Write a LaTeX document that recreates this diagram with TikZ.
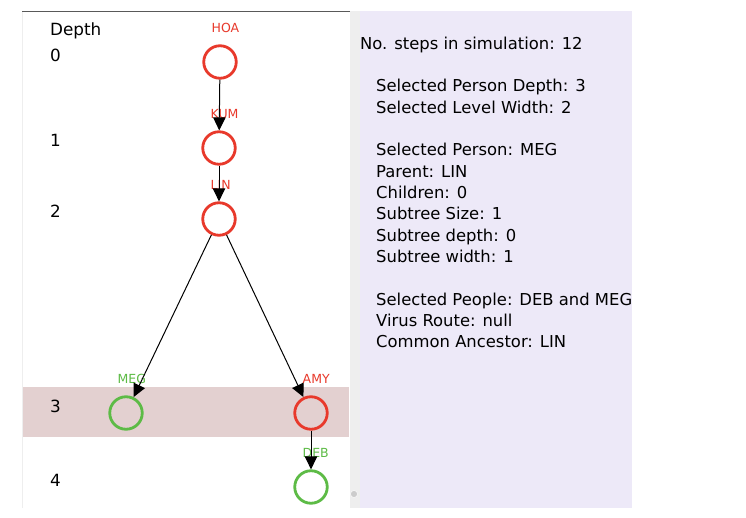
\documentclass[tikz,border=0pt]{standalone}
\usepackage{fontspec}
\setmainfont{DejaVu Sans}
\usetikzlibrary{calc,arrows.meta}

\definecolor{nodered}{RGB}{232,57,43}
\definecolor{nodegreen}{RGB}{93,187,70}
\definecolor{panelviolet}{RGB}{237,233,248}
\definecolor{bandpink}{RGB}{227,208,208}
\definecolor{stripgray}{RGB}{238,238,238}

\begin{document}
\begin{tikzpicture}[x=1pt, y=-1pt,
    person/.style={circle, draw, line width=2.8pt, minimum size=32.5pt, inner sep=0pt},
    infected/.style={person, draw=nodered},
    healthy/.style={person, draw=nodegreen},
    tag/.style={anchor=base west, inner sep=0pt, font=\fontsize{12.5}{14}\selectfont},
    level/.style={anchor=base west, inner sep=0pt, font=\fontsize{16.8}{20}\selectfont},
    info/.style={anchor=base west, inner sep=0pt, font=\fontsize{16.4}{20}\selectfont},
    link/.style={line width=1pt, -{Triangle[length=13pt, width=12.5pt]}}
]

    % Fix the page size to the screenshot
    \useasboundingbox (0,0) rectangle (746,518);
    \fill[white] (0,0) rectangle (746,518);

    % Background panels
    \fill[panelviolet] (360,11) rectangle (632,508);
    \fill[stripgray] (350,11) rectangle (360,508);
    \fill[bandpink] (22,387) rectangle (349,437);
    \draw[stripgray] (22,11) -- (22,508);
    \draw[black!65, line width=0.8pt] (22,11) -- (350,11);
    \filldraw[fill=black!20, draw=white] (354,494) circle (3.5);

    % Depth column
    \node[level] (depth-title) at (50,36) {Depth};
    \foreach \d/\y in {0/62, 1/147, 2/218, 3/412, 4/486}
        \node[level] (depth-\d) at (50,\y) {\d};

    % The people of the tree
    \node[infected] (hoa) at (220,62) {};
    \node[infected] (kum) at (219,148) {};
    \node[infected] (lin) at (219,219) {};
    \node[healthy] (meg) at (126,413) {};
    \node[infected] (amy) at (311,413) {};
    \node[healthy] (deb) at (311,487) {};

    % Names above the circles
    \foreach \n/\c/\txt in {hoa/nodered/HOA, kum/nodered/KUM, lin/nodered/LIN,
                            meg/nodegreen/MEG, amy/nodered/AMY, deb/nodegreen/DEB}
        \node[tag, text=\c] (\n-tag) at ($(\n)+(-8.5,-29.5)$) {\txt};

    % Infection links
    \draw[link] (hoa) -- (kum);
    \draw[link] (kum) -- (lin);
    \draw[link] (lin) -- (meg);
    \draw[link] (lin) -- (amy);
    \draw[link] (amy) -- (deb);

    % Statistics panel
    \node[info] (steps) at (360,50) {No. steps in simulation: 12};
    \foreach \k/\txt in {0/Selected Person Depth: 3, 1/Selected Level Width: 2,
                         3/Selected Person: MEG, 4/Parent: LIN, 5/Children: 0,
                         6/Subtree Size: 1, 7/Subtree depth: 0, 8/Subtree width: 1,
                         10/Selected People: DEB and MEG, 11/Virus Route: null,
                         12/Common Ancestor: LIN}
        \node[info] (info-\k) at (376,92+21.33*\k) {\txt};

\end{tikzpicture}
\end{document}
